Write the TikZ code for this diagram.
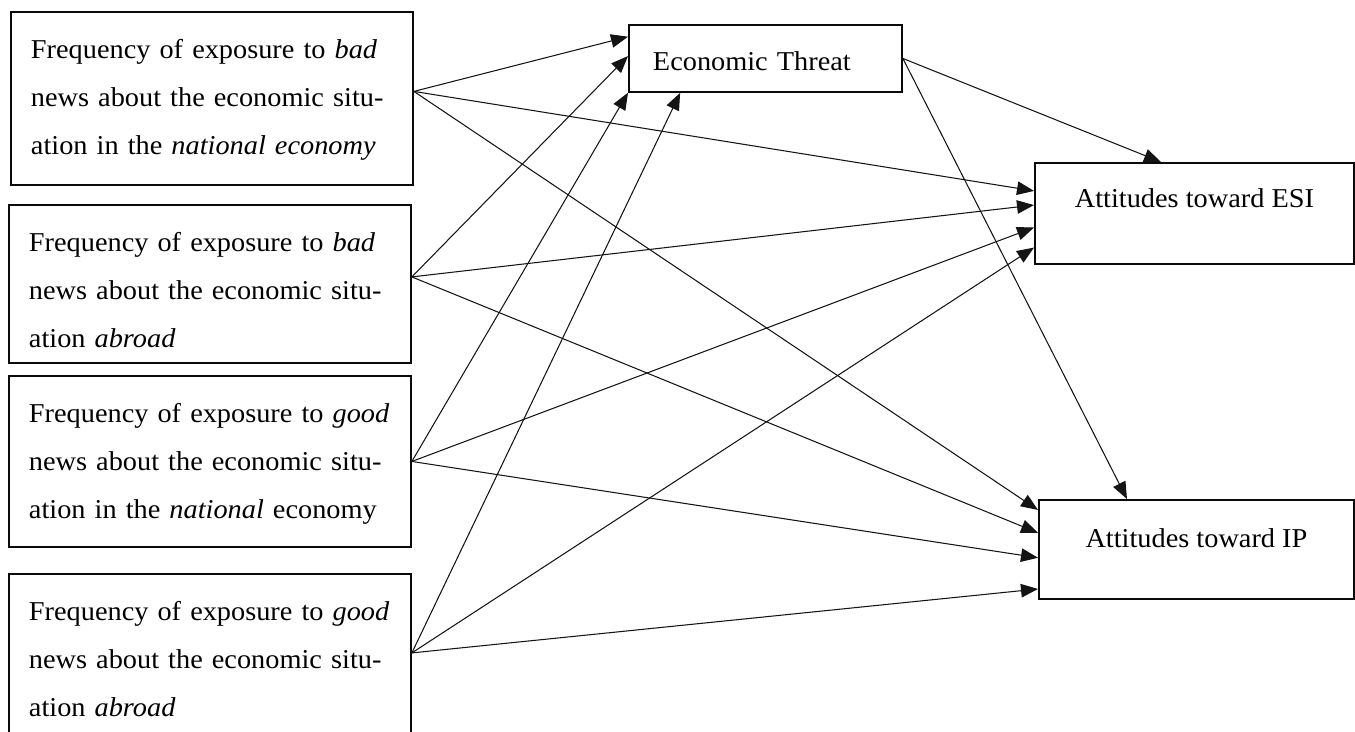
\documentclass[tikz,border=0pt]{standalone}
\usepackage{fontspec}
\setmainfont{Liberation Serif}[FakeStretch=1.04]
\usepackage{tikz}
\usetikzlibrary{arrows.meta, positioning}
\definecolor{boxline}{RGB}{10, 10, 10}
\definecolor{pathline}{RGB}{20, 20, 20}

\tikzset{
    newsbox/.style={draw=boxline, line width=1.1pt, anchor=north west, inner xsep=0.4cm, inner ysep=0pt,
                    text width=7.24cm, text height=0.94cm, text depth=#1, align=left,
                    font=\fontsize{15.5}{27.3}\selectfont},
    threatbox/.style={draw=boxline, line width=1.1pt, anchor=north west, inner xsep=0.48cm, inner ysep=0pt,
                      text width=4.5cm, text height=0.92cm, text depth=0.42cm, align=left,
                      font=\fontsize{15.5}{18}\selectfont},
    attbox/.style={draw=boxline, line width=1.1pt, anchor=north west, inner sep=0pt,
                   minimum width=#1, align=center, font=\fontsize{15.5}{18}\selectfont},
    path/.style={draw=pathline, line width=0.6pt, -{Triangle[length=0.34cm, width=0.27cm]}}
}

\begin{document}
\begin{tikzpicture}[x={(0.02cm,0)}, y={(0,-0.02cm)}]
    \clip (0,0) rectangle (1355,731);

    \node[newsbox=2.52cm] (badnat) at (10,11) {Frequency of exposure to \textit{bad}\\
        news about the economic situ-\\ation in the \textit{national economy}};
    \node[newsbox=2.22cm] (badabr) at (8,204) {Frequency of exposure to \textit{bad}\\
        news about the economic situ-\\ation \textit{abroad}};
    \node[newsbox=2.48cm] (goodnat) at (8,375) {Frequency of exposure to \textit{good}\\
        news about the economic situ-\\ation in the \textit{national} economy};
    \node[newsbox=2.5cm] (goodabr) at (8,573) {Frequency of exposure to \textit{good}\\
        news about the economic situ-\\ation \textit{abroad}};

    \node[threatbox] (threat) at (628,24) {Economic Threat};
    \node[attbox=6.38cm, text height=0.9cm, text depth=1.12cm] (esi) at (1034,162) {Attitudes toward ESI};
    \node[attbox=6.3cm, text height=0.96cm, text depth=1.02cm] (ip) at (1038,499) {Attitudes toward IP};

    \draw[path] (badnat.2) -- (threat.171);
    \draw[path] (badnat.2) -- (esi.172);
    \draw[path] (badnat.2) -- (ip.166.3);

    \draw[path] (badabr.2) -- (threat.179);
    \draw[path] (badabr.2) -- (esi.177.3);
    \draw[path] (badabr.2) -- (ip.174);

    \draw[path] (goodnat.east) -- (threat.194.7);
    \draw[path] (goodnat.east) -- (esi.185.5);
    \draw[path] (goodnat.east) -- (ip.183.5);

    \draw[path] (goodabr.2) -- (threat.202.9);
    \draw[path] (goodabr.2) -- (esi.192.2);
    \draw[path] (goodabr.2) -- (ip.194.1);

    \draw[path] (threat.east) -- (esi.123.6);
    \draw[path] (threat.east) -- (ip.144.9);
\end{tikzpicture}
\end{document}
